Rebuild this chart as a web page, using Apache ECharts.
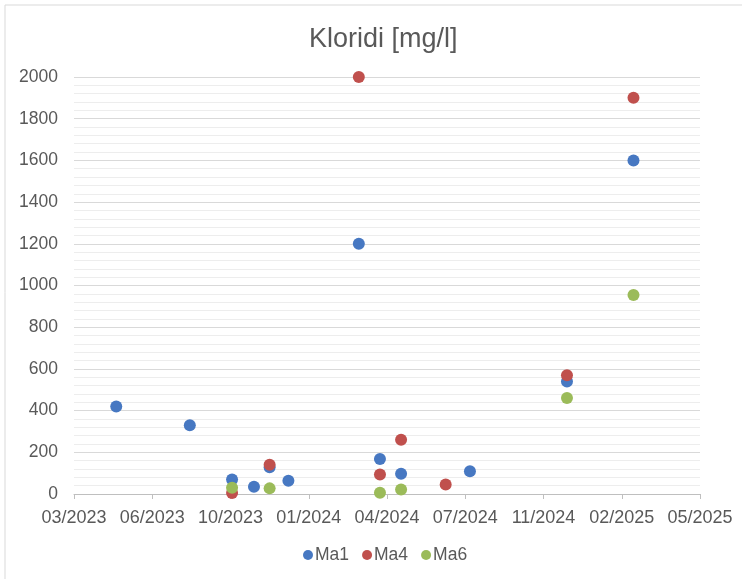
<!DOCTYPE html>
<html>
<head>
<meta charset="utf-8">
<script src="https://cdn.jsdelivr.net/npm/echarts@6/dist/echarts.min.js"></script>
<style>
html,body{margin:0;padding:0;background:#fff;}
#chart{width:742px;height:579px;}
</style>
</head>
<body>
<div id="chart"></div>
<script>
// ---- data ----
var seriesNames = ['Ma1', 'Ma4', 'Ma6'];
var ma1Dates = ['2023-05-09','2023-08-11','2023-10-04','2023-11-01','2023-11-21','2023-12-15','2024-03-14','2024-04-10','2024-05-07','2024-08-03','2024-12-05','2025-02-28'];
var ma1Values = [420, 330, 70, 35, 128, 64, 1200, 168, 97, 109, 540, 1600];
var ma4Dates = ['2023-10-04','2023-11-21','2024-03-14','2024-04-10','2024-05-07','2024-07-03','2024-12-05','2025-02-28'];
var ma4Values = [5, 140, 2000, 93, 260, 45, 570, 1900];
var ma6Dates = ['2023-10-04','2023-11-21','2024-04-10','2024-05-07','2024-12-05','2025-02-28'];
var ma6Values = [30, 27, 6, 22, 460, 955];
// x axis: Excel-like date axis, starts 2023-03-16, major unit 100 days
var axisStartDate = '2023-03-16';
var axisSpanDays = 800;
var axisStepDays = 100;
var yMin = 0, yMax = 2000, yStep = 200;
var colors = ['#4778C2', '#C0504D', '#9BBB59'];

var DAY = 86400000;
function toUTC(s){ var p = s.split('-'); return Date.UTC(+p[0], +p[1]-1, +p[2]); }
var origin = toUTC(axisStartDate);
function dayOffset(s){ return Math.round((toUTC(s) - origin) / DAY); }
function pairs(dates, vals){ return dates.map(function(d,i){ return [dayOffset(d), vals[i]]; }); }
function fmt(v){
  var d = new Date(origin + v * DAY);
  var m = d.getUTCMonth() + 1;
  return (m < 10 ? '0' + m : '' + m) + '/' + d.getUTCFullYear();
}

var allDates = [ma1Dates, ma4Dates, ma6Dates];
var allVals = [ma1Values, ma4Values, ma6Values];
var font = '"Liberation Sans", Arial, sans-serif';

var chart = echarts.init(document.getElementById('chart'));
chart.setOption({
  animation: false,
  backgroundColor: '#fff',
  color: colors,
  title: {
    text: 'Kloridi [mg/l]',
    left: 304, top: 21,
    textStyle: { fontFamily: font, fontSize: 27, fontWeight: 'normal', color: '#595959' }
  },
  legend: {
    left: 298, top: 541,
    itemWidth: 10, itemHeight: 10, itemGap: 13,
    icon: 'circle',
    data: seriesNames,
    textStyle: { fontFamily: font, fontSize: 17.5, color: '#595959', padding: [0,0,0,-3] }
  },
  graphic: [{
    type: 'rect', shape: { x: 5, y: 5, width: 800, height: 640 },
    style: { fill: 'none', stroke: '#D9D9D9', lineWidth: 1 }, z: -1
  }],
  grid: { left: 74, right: 42, top: 77, bottom: 85, containLabel: false },
  xAxis: {
    type: 'value',
    min: 0, max: axisSpanDays, interval: axisStepDays,
    axisLine: { show: true, lineStyle: { color: '#BFBFBF', width: 1 } },
    axisTick: { show: true, inside: false, length: 5, lineStyle: { color: '#BFBFBF' } },
    splitLine: { show: false },
    axisLabel: { margin: 15, fontFamily: font, fontSize: 18, color: '#595959', formatter: fmt }
  },
  yAxis: {
    type: 'value',
    min: yMin, max: yMax, interval: yStep,
    axisLine: { show: false },
    axisTick: { show: false },
    splitLine: { show: true, lineStyle: { color: '#D9D9D9', width: 1 } },
    minorTick: { show: false, splitNumber: 5 },
    minorSplitLine: { show: true, lineStyle: { color: '#EDEDED', width: 1 } },
    axisLabel: { margin: 16, fontFamily: font, fontSize: 17.5, color: '#595959', formatter: function(v){ return String(v); } }
  },
  series: seriesNames.map(function(n, i){
    return {
      name: n, type: 'scatter', symbol: 'circle', symbolSize: 12,
      itemStyle: { color: colors[i], opacity: 1 },
      data: pairs(allDates[i], allVals[i])
    };
  })
});
</script>
</body>
</html>
